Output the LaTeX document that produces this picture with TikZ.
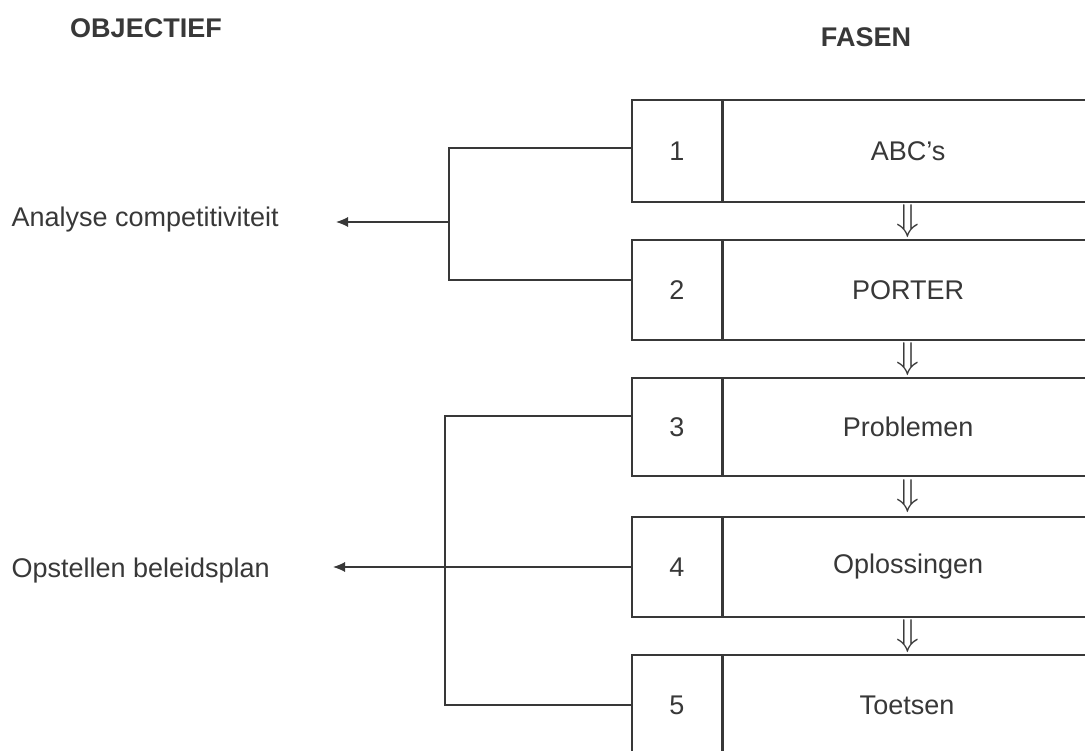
\documentclass[tikz,border=0pt]{standalone}
\usepackage{fontspec}
\setmainfont{Liberation Sans}
\usetikzlibrary{calc,arrows.meta}
\definecolor{ink}{gray}{0.22}
\begin{document}
\begin{tikzpicture}[x=1pt,y=-1pt,
  every node/.style={text=ink,font=\fontsize{27}{32}\selectfont},
  numbox/.style={draw=ink,line width=1.2pt,minimum width=90pt,inner sep=0pt},
  mainbox/.style={draw=ink,line width=1.2pt,minimum width=370pt,inner sep=0pt},
  head/.style={font=\fontsize{27}{32}\selectfont\bfseries},
  conn/.style={draw=ink,line width=1.1pt},
  tip/.style={-{Latex[length=12pt,width=10pt]}},
  flow/.style={inner sep=0pt}]
\useasboundingbox (0,0) rectangle (1085,751);
\fill[white] (0,0) rectangle (1085,751);
% headers
\node[head] (hobj) at (146,28) {OBJECTIEF};
\node[head] (hfas) at (866,37) {FASEN};
% boxes
\node[numbox,minimum height=102pt] (n1) at (677,151) {1};
\node[mainbox,minimum height=102pt,anchor=west] (m1) at (n1.east) {ABC’s};
\node[numbox,minimum height=100pt] (n2) at (677,290) {2};
\node[mainbox,minimum height=100pt,anchor=west] (m2) at (n2.east) {PORTER};
\node[numbox,minimum height=98pt] (n3) at (677,427) {3};
\node[mainbox,minimum height=98pt,anchor=west] (m3) at (n3.east) {Problemen};
\node[numbox,minimum height=100pt] (n4) at (677,567) {4};
\node[mainbox,minimum height=100pt,anchor=west] (m4) at (n4.east) {Oplossingen};
\node[numbox,minimum height=100pt] (n5) at (677,705) {};
\node at (677,705) (t5) {5};
\node[mainbox,minimum height=100pt,anchor=west] (m5) at (n5.east) {};
\node at (907,705) (tt5) {Toetsen};
% flow arrows
\node[flow] (f12) at ($(m1.south)!0.5!(m2.north)$) {\scalebox{1.5}{$\Downarrow$}};
\node[flow] (f23) at ($(m2.south)!0.5!(m3.north)$) {\scalebox{1.5}{$\Downarrow$}};
\node[flow] (f34) at ($(m3.south)!0.5!(m4.north)$) {\scalebox{1.5}{$\Downarrow$}};
\node[flow] (f45) at ($(m4.south)!0.5!(m5.north)$) {\scalebox{1.5}{$\Downarrow$}};
% objectives
\node[anchor=west] (o1) at (8,220) {Analyse competitiviteit};
\node[anchor=west] (o2) at (8,571) {Opstellen beleidsplan};
\coordinate (a1) at (336,222);
\coordinate (a2) at (333,567);
% bracket 1
\path[conn] ([yshift=3pt]n1.west) -| (449,215) |- ([yshift=10pt]n2.west);
\draw[conn,tip] (449,222) -- (a1);
% bracket 2
\path[conn] ([yshift=11pt]n3.west) -| (445,704) |- (n5.west);
\draw[conn,tip] (n4.west) -- (a2);
\end{tikzpicture}
\end{document}
